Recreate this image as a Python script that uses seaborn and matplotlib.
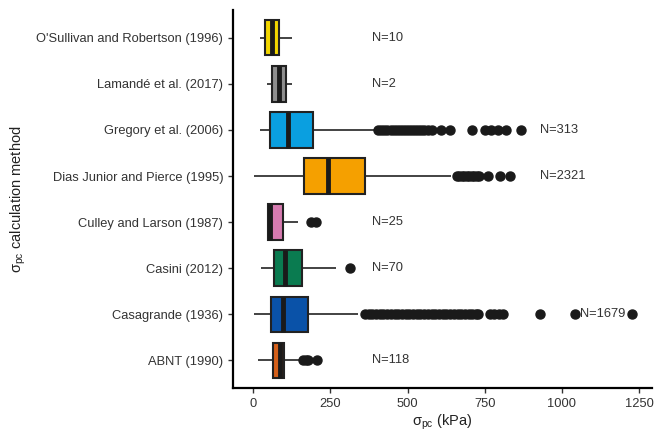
import numpy as np
import pandas as pd
import matplotlib
matplotlib.use("Agg")
import matplotlib.pyplot as plt
import seaborn as sns

# ---- data ----
categories = ["O'Sullivan and Robertson (1996)", "Lamandé et al. (2017)",
              "Gregory et al. (2006)", "Dias Junior and Pierce (1995)",
              "Culley and Larson (1987)", "Casini (2012)",
              "Casagrande (1936)", "ABNT (1990)"]
whisker_low = [22, 44, 22, 4, 44, 26, 4, 17]
q1 = [39, 62, 55, 165, 47, 67, 58, 63]
median = [60, 85, 112, 243, 55, 103, 98, 87]
q3 = [83, 107, 193, 361, 96, 158, 178, 99]
whisker_high = [126, 126, 396, 640, 146, 270, 340, 149]
outliers = [
    [],
    [],
    [405, 415, 425, 435, 445, 455, 465, 475, 485, 495, 505, 515, 525, 535,
     545, 555, 565, 579, 608, 638, 709, 751, 772, 793, 818, 869],
    [660, 668, 676, 684, 692, 700, 708, 716, 724, 732, 761, 800, 832],
    [187, 203],
    [314],
    [362, 374, 386, 398, 410, 422, 434, 446, 458, 470, 482, 494, 506, 518,
     530, 542, 554, 566, 578, 590, 602, 614, 626, 638, 650, 662, 674, 686,
     698, 710, 722, 729, 767, 780, 795, 810, 928, 1041, 1226],
    [162, 170, 178, 206],
]
n_labels = ["N=10", "N=2", "N=313", "N=2321", "N=25", "N=70", "N=1679", "N=118"]
n_label_x = [385, 385, 928, 928, 385, 385, 1058, 385]
colors = ["#F2D600", "#8E8E8E", "#0A9FE0", "#F5A000", "#D67BB0",
          "#0A7B50", "#0A52A8", "#D5601A"]

# build a table whose quartiles / whiskers / outliers reproduce the read stats
rows = []
for i, cat in enumerate(categories):
    k = len(outliers[i]) + 1
    vals = ([whisker_low[i]] + [q1[i]] * k + [median[i]] * k + [q3[i]] * k
            + [whisker_high[i]] + list(outliers[i]))
    for v in vals:
        rows.append((cat, v))
df = pd.DataFrame(rows, columns=["method", "value"])

sns.set_theme(style="white")
plt.rcParams["font.family"] = ["Liberation Sans", "DejaVu Sans"]
plt.rcParams["mathtext.fontset"] = "custom"
plt.rcParams["mathtext.rm"] = "Liberation Sans"

fig = plt.figure(figsize=(6.64, 4.37), dpi=100)
ax = fig.add_axes([0.351, 0.112, 0.631, 0.865])

sns.boxplot(data=df, x="value", y="method", hue="method", order=categories,
            hue_order=categories, palette=colors, legend=False, ax=ax,
            width=0.77, linewidth=1.5, linecolor="#222222", showcaps=False,
            whis=1.5, saturation=1,
            medianprops=dict(color="#1a1a1a", linewidth=3.5),
            whiskerprops=dict(color="#222222", linewidth=1.2),
            flierprops=dict(marker="o", markersize=6.5,
                            markerfacecolor="#1a1a1a",
                            markeredgecolor="#1a1a1a"))

for i, lab in enumerate(n_labels):
    ax.text(n_label_x[i], i, lab, ha="left", va="center", fontsize=9.3,
            color="#333333")

ax.set_xlim(-65, 1292)
ax.set_ylim(7.6, -0.6)
ax.set_xticks([0, 250, 500, 750, 1000, 1250])
ax.tick_params(axis="both", which="both", length=3.5, width=1,
               color="#333333", labelsize=9.3, labelcolor="#333333",
               left=True, bottom=True)
for s in ["top", "right"]:
    ax.spines[s].set_visible(False)
for s in ["left", "bottom"]:
    ax.spines[s].set_color("black")
    ax.spines[s].set_linewidth(1.6)

ax.set_xlabel(r"σ$_{\mathrm{pc}}$ (kPa)", fontsize=10.5, color="#222222",
              labelpad=2)
ax.set_ylabel(r"σ$_{\mathrm{pc}}$ calculation method", fontsize=10.5,
              color="#222222")
ax.yaxis.set_label_coords(-0.49, 0.5)

fig.savefig("out.png", dpi=100)
